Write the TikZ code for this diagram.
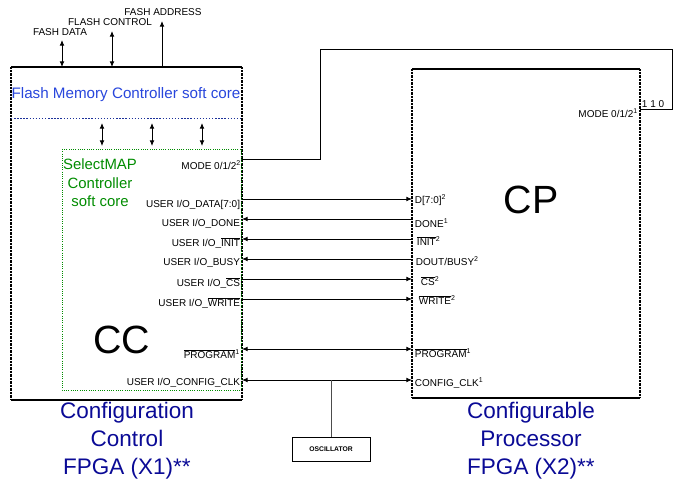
\documentclass[tikz,border=0pt]{standalone}
\usepackage{fontspec}
\setmainfont{Liberation Sans}
\usetikzlibrary{arrows.meta}
\definecolor{navytxt}{RGB}{10,10,150}
\definecolor{flashblue}{RGB}{40,70,220}
\definecolor{mapgreen}{RGB}{0,140,0}
\newcommand{\ovl}[1]{$\overline{\mbox{#1}}$}
\newcommand{\sups}[1]{\textsuperscript{#1}}
\begin{document}
\begin{tikzpicture}[x=0.025cm, y=-0.025cm, line cap=butt, line join=miter,
  pinlbl/.style={font=\fontsize{7.1}{8}\selectfont, inner sep=0.5pt},
  bigtxt/.style={font=\fontsize{16}{19.8}\selectfont, text=navytxt, align=center},
  chiptxt/.style={font=\fontsize{28}{30}\selectfont},
  sig/.style={line width=0.6pt},
  tipr/.style={-{Latex[length=4pt,width=3.4pt]}},
  tipl/.style={{Latex[length=4pt,width=3.4pt]}-},
  tipb/.style={{Latex[length=4pt,width=3.4pt]}-{Latex[length=4pt,width=3.4pt]}},
  edge/.style={line width=1.1pt},
  dotedge/.style={line width=1.1pt, dash pattern=on 0.4pt off 0.6pt}]
\useasboundingbox (0,0) rectangle (678,482);

% chip outlines
\coordinate (ccNW) at (11,67);
\coordinate (ccNE) at (242,67);
\coordinate (ccSW) at (11,400);
\coordinate (ccSE) at (242,400);
\coordinate (cpNW) at (412,69);
\coordinate (cpNE) at (640,69);
\coordinate (cpSW) at (412,398);
\coordinate (cpSE) at (640,398);

\draw[edge] (ccNW) -- (ccNE);
\draw[edge] (ccSW) -- (ccSE);
\draw[dotedge] (ccNW) -- (ccSW);
\draw[dotedge] (ccNE) -- (ccSE);
\draw[edge] (cpNW) -- (cpNE);
\draw[edge] (cpSW) -- (cpSE);
\draw[dotedge] (cpNW) -- (cpSW);
\draw[dotedge] (cpNE) -- (cpSE);

% soft cores
\draw[flashblue!70!black, line width=0.6pt, dash pattern=on 1pt off 1.2pt] (11,118) -- (242,118);
\node[text=flashblue, font=\fontsize{10.8}{12}\selectfont, inner sep=0pt] (flash) at (126,95) {Flash Memory Controller soft core};
\draw[mapgreen, line width=0.6pt, dash pattern=on 0.6pt off 1pt] (62,149) rectangle (241,390);
\node[text=mapgreen, font=\fontsize{10.6}{13.2}\selectfont, align=center, inner sep=0pt] (smap) at (100,183) {SelectMAP\\Controller\\soft core};

\node[chiptxt] (cc) at (122,340) {CC};
\node[chiptxt] (cp) at (531,200) {CP};

% flash bus
\coordinate (fd0) at (62,67);   \coordinate (fd1) at (62,40);
\coordinate (fc0) at (112,67);  \coordinate (fc1) at (112,31);
\coordinate (fa0) at (162,67);  \coordinate (fa1) at (162,21);
\draw[sig, tipb] (fd0) -- (fd1);
\draw[sig, tipb] (fc0) -- (fc1);
\draw[sig, tipr] (fa0) -- (fa1);
\node[pinlbl, anchor=south] (fdl) at (60,37) {FASH DATA};
\node[pinlbl, anchor=south] (fcl) at (110,27) {FLASH CONTROL};
\node[pinlbl, anchor=south] (fal) at (163,17) {FASH ADDRESS};

% links between soft cores
\foreach \x in {102,152,202}{
  \coordinate (up\x) at (\x,123);
  \coordinate (dn\x) at (\x,146);
  \draw[sig, tipb] (up\x) -- (dn\x);
}

% mode pins
\coordinate (ccmode) at (242,159);
\coordinate (cpmode) at (640,109);
\draw[sig] (ccmode) -| (320,49) -| (672,109) -- (cpmode);
\node[pinlbl, anchor=east] (ccmodel) at (242,165) {MODE 0/1/2\sups{2}};
\node[pinlbl, anchor=east] (cpmodel) at (639,113) {MODE 0/1/2\sups{1}};
\node[pinlbl, anchor=south west] (modev) at (641,109) {1 1 0};

% configuration pins
\coordinate (ccD) at (242,199);  \coordinate (cpD) at (412,199);
\coordinate (ccO) at (242,219);  \coordinate (cpO) at (412,219);
\coordinate (ccI) at (242,239);  \coordinate (cpI) at (412,239);
\coordinate (ccB) at (242,259);  \coordinate (cpB) at (412,259);
\coordinate (ccC) at (242,279);  \coordinate (cpC) at (412,279);
\coordinate (ccW) at (242,299);  \coordinate (cpW) at (412,299);
\coordinate (ccP) at (242,349);  \coordinate (cpP) at (412,349);
\coordinate (ccK) at (242,380);  \coordinate (cpK) at (412,380);

\draw[sig, tipr] (ccD) -- (cpD);
\draw[sig, tipl] (ccO) -- (cpO);
\draw[sig, tipl] (ccI) -- (cpI);
\draw[sig, tipl] (ccB) -- (cpB);
\draw[sig, tipr] (ccC) -- (cpC);
\draw[sig, tipr] (ccW) -- (cpW);
\draw[sig, tipb] (ccP) -- (cpP);
\draw[sig, tipb] (ccK) -- (cpK);

\node[pinlbl, anchor=east] (ccDl) at (241,205) {USER I/O\_DATA[7:0]};
\node[pinlbl, anchor=east] (ccOl) at (241,224) {USER I/O\_DONE};
\node[pinlbl, anchor=east] (ccIl) at (241,243) {USER I/O\_\ovl{INIT}};
\node[pinlbl, anchor=east] (ccBl) at (241,263) {USER I/O\_BUSY};
\node[pinlbl, anchor=east] (ccCl) at (241,283) {USER I/O\_\ovl{CS}};
\node[pinlbl, anchor=east] (ccWl) at (241,303) {USER I/O\_\ovl{WRITE}};
\node[pinlbl, anchor=east] (ccPl) at (241,354) {\ovl{PROGRAM}\sups{1}};
\node[pinlbl, anchor=east] (ccKl) at (241,383) {USER I/O\_CONFIG\_CLK};

\node[pinlbl, anchor=west] (cpDl) at (414,200) {D[7:0]\sups{2}};
\node[pinlbl, anchor=west] (cpOl) at (414,223) {DONE\sups{1}};
\node[pinlbl, anchor=west] (cpIl) at (416,241) {\ovl{INIT}\sups{2}};
\node[pinlbl, anchor=west] (cpBl) at (415,261) {DOUT/BUSY\sups{2}};
\node[pinlbl, anchor=west] (cpCl) at (420,281) {\ovl{CS}\sups{2}};
\node[pinlbl, anchor=west] (cpWl) at (418,300) {\ovl{WRITE}\sups{2}};
\node[pinlbl, anchor=west] (cpPl) at (414,353) {\ovl{PROGRAM}\sups{1}};
\node[pinlbl, anchor=west] (cpKl) at (414,383) {CONFIG\_CLK\sups{1}};

% oscillator
\node[draw, line width=0.6pt, minimum width=78*0.025cm, minimum height=24*0.025cm,
  inner sep=0pt, font=\fontsize{4.8}{5}\selectfont\bfseries] (osc) at (331,449) {OSCILLATOR};
\coordinate (clktap) at (331,380);
\draw[sig, black!70] (clktap) -- (osc.north);

% chip captions
\node[bigtxt] (cccap) at (127,441) {Configuration\\Control\\FPGA (X1)**};
\node[bigtxt] (cpcap) at (531,441) {Configurable\\Processor\\FPGA (X2)**};
\end{tikzpicture}
\end{document}
